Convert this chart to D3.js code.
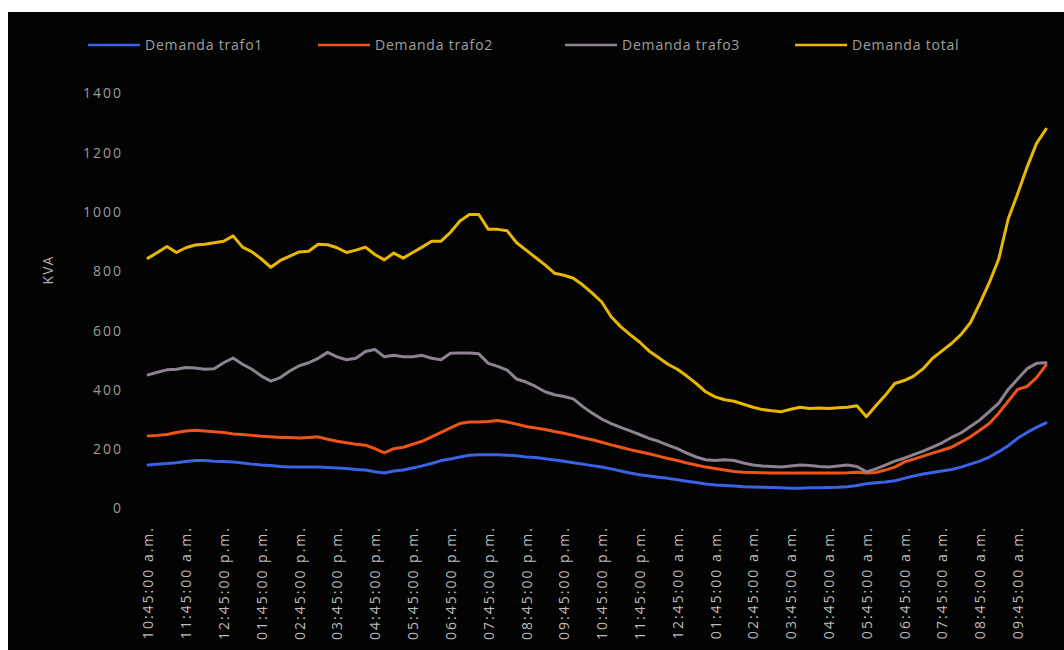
<!DOCTYPE html>
<html>
<head>
<meta charset="utf-8">
<script src="https://cdn.jsdelivr.net/npm/d3@7"></script>
<style>
  html, body { margin: 0; padding: 0; background: #ffffff; }
  svg { display: block; }
  text { font-family: "Open Sans", "DejaVu Sans", sans-serif; }
</style>
</head>
<body>
<svg id="chart" width="1064" height="650"></svg>
<script>
// 15-minute readings from 10:45 a.m. to 10:30 a.m. of the next day (96 samples)
const hourLabels = [
  "10:45:00 a.m.", "11:45:00 a.m.", "12:45:00 p.m.", "01:45:00 p.m.",
  "02:45:00 p.m.", "03:45:00 p.m.", "04:45:00 p.m.", "05:45:00 p.m.",
  "06:45:00 p.m.", "07:45:00 p.m.", "08:45:00 p.m.", "09:45:00 p.m.",
  "10:45:00 p.m.", "11:45:00 p.m.", "12:45:00 a.m.", "01:45:00 a.m.",
  "02:45:00 a.m.", "03:45:00 a.m.", "04:45:00 a.m.", "05:45:00 a.m.",
  "06:45:00 a.m.", "07:45:00 a.m.", "08:45:00 a.m.", "09:45:00 a.m."
];

const yTicks = [0, 200, 400, 600, 800, 1000, 1200, 1400];

const trafo1 = [
  145, 148, 150, 153, 157, 160, 160, 158, 157, 155, 152, 148, 145, 143, 140, 138,
  138, 138, 138, 137, 135, 133, 130, 128, 122, 118, 125, 128, 135, 142, 150, 160,
  165, 172, 178, 180, 180, 180, 178, 176, 172, 170, 166, 162, 158, 153, 148, 143,
  138, 132, 125, 118, 112, 108, 104, 100, 95, 90, 86, 81, 78, 76, 74, 72,
  71, 70, 69, 68, 67, 67, 68, 68, 69, 70, 72, 76, 82, 85, 88, 92,
  100, 108, 115, 120, 125, 130, 138, 148, 158, 172, 190, 210, 235, 255, 272, 287
];

const trafo2 = [
  243, 245, 248, 255, 260, 262, 260, 257, 255, 250, 248, 245, 242, 240, 238, 238,
  236, 238, 240, 232, 225, 220, 215, 212, 200, 186, 200, 205, 215, 225, 240, 255,
  270, 285, 290, 290, 292, 295, 290, 283, 275, 270, 265, 258, 252, 245, 237, 230,
  222, 213, 205, 197, 190, 183, 175, 167, 160, 152, 145, 138, 133, 128, 123, 121,
  120, 119, 118, 118, 118, 118, 118, 118, 118, 118, 119, 121, 118, 120, 128, 138,
  155, 165, 175, 185, 195, 205, 222, 240, 262, 285, 320, 360, 400, 410, 440, 482
];

const trafo3 = [
  449, 458, 466, 468, 474, 472, 468, 470, 490, 506, 485, 468, 445, 428, 440, 462,
  480, 490, 505, 525, 510, 500, 505, 528, 535, 510, 515, 510, 510, 515, 505, 500,
  522, 523, 523, 520, 488, 478, 465, 435, 425, 410, 392, 382, 376, 368, 342, 320,
  300, 285, 272, 260, 248, 235, 225, 212, 200, 185, 172, 163, 160, 163, 160, 152,
  145, 142, 140, 138, 142, 145, 143, 140, 138, 142, 145, 140, 122, 132, 145, 158,
  168, 180, 192, 205, 220, 238, 253, 275, 297, 325, 354, 400, 435, 470, 488, 490
];

const total = [
  843, 862, 882, 862, 878, 887, 890, 895, 900, 918, 880, 864, 840, 812, 835, 850,
  864, 866, 890, 888, 878, 862, 870, 880, 855, 837, 860, 843, 862, 880, 900, 900,
  930, 968, 990, 990, 940, 940, 935, 895, 870, 845, 820, 792, 785, 775, 752, 725,
  695, 645, 612, 585, 560, 530, 508, 485, 468, 445, 420, 392, 375, 365, 360, 350,
  340, 332, 328, 325, 333, 340, 336, 337, 336, 338, 340, 345, 308, 345, 380, 420,
  430, 445, 470, 505, 530, 555, 585, 625, 690, 760, 840, 975, 1060, 1150, 1230, 1278
];

const seriesNames = ["Demanda trafo1", "Demanda trafo2", "Demanda trafo3", "Demanda total"];

const series = [
  { name: seriesNames[0], values: trafo1, color: "#3a62e6" },
  { name: seriesNames[1], values: trafo2, color: "#ee5418" },
  { name: seriesNames[2], values: trafo3, color: "#8c8290" },
  { name: seriesNames[3], values: total,  color: "#e9b700" }
];

const svg = d3.select("#chart");
const W = 1064, H = 650;

// dark chart panel with a thin white margin on the top and left
svg.append("rect").attr("x", 8).attr("y", 12).attr("width", W - 8).attr("height", H - 12)
  .attr("fill", "#030303");

const idx = d3.range(trafo1.length);
const x = d3.scalePoint().domain(idx).range([148, 1046]);
const y = d3.scaleLinear().domain([0, 1400]).range([508, 93]);

// y axis labels only (no axis line, no gridlines)
const yAxis = d3.axisLeft(y).tickValues(yTicks).tickFormat(d3.format("d"))
  .tickSize(0).tickPadding(0);
const yg = svg.append("g").attr("transform", "translate(123,0)").call(yAxis);
yg.select(".domain").remove();
yg.selectAll("text")
  .attr("fill", "#9a9a9a")
  .style("font-size", "14px")
  .style("letter-spacing", "2px")
  .attr("dy", "0.35em");

// y axis title
svg.append("text")
  .attr("transform", "translate(53,270) rotate(-90)")
  .attr("text-anchor", "middle")
  .attr("fill", "#b0b0b0")
  .style("font-size", "14px")
  .style("letter-spacing", "1px")
  .text("KVA");

// x axis: one label per hour (every fourth sample), rotated vertically
const hourIdx = idx.filter(i => i % 4 === 0);
const xAxis = d3.axisBottom(x)
  .tickValues(hourIdx)
  .tickFormat(i => hourLabels[i / 4])
  .tickSize(0).tickPadding(0);
const xg = svg.append("g").attr("transform", "translate(0,526)").call(xAxis);
xg.select(".domain").remove();
xg.selectAll("text")
  .attr("fill", "#bdbdbd")
  .style("font-size", "14px")
  .style("letter-spacing", "2px")
  .attr("text-anchor", "end")
  .attr("dx", 0)
  .attr("dy", "0.35em")
  .attr("transform", "rotate(-90)");

// lines
const line = d3.line()
  .x((d, i) => x(i))
  .y(d => y(d));

svg.append("g").selectAll("path")
  .data(series)
  .join("path")
  .attr("d", s => line(s.values))
  .attr("fill", "none")
  .attr("stroke", s => s.color)
  .attr("stroke-width", 3)
  .attr("stroke-linejoin", "round")
  .attr("stroke-linecap", "round");

// legend
const legendX = [88, 318, 565, 795];
const legend = svg.append("g").selectAll("g")
  .data(series)
  .join("g")
  .attr("transform", (s, i) => `translate(${legendX[i]},45)`);
legend.append("line")
  .attr("x1", 0).attr("x2", 52).attr("y1", 0).attr("y2", 0)
  .attr("stroke", s => s.color)
  .attr("stroke-width", 2.6);
legend.append("text")
  .attr("x", 57).attr("y", 0).attr("dy", "0.35em")
  .attr("fill", "#a0a0a0")
  .style("font-size", "14px")
  .style("letter-spacing", "0.8px")
  .text(s => s.name);
</script>
</body>
</html>
